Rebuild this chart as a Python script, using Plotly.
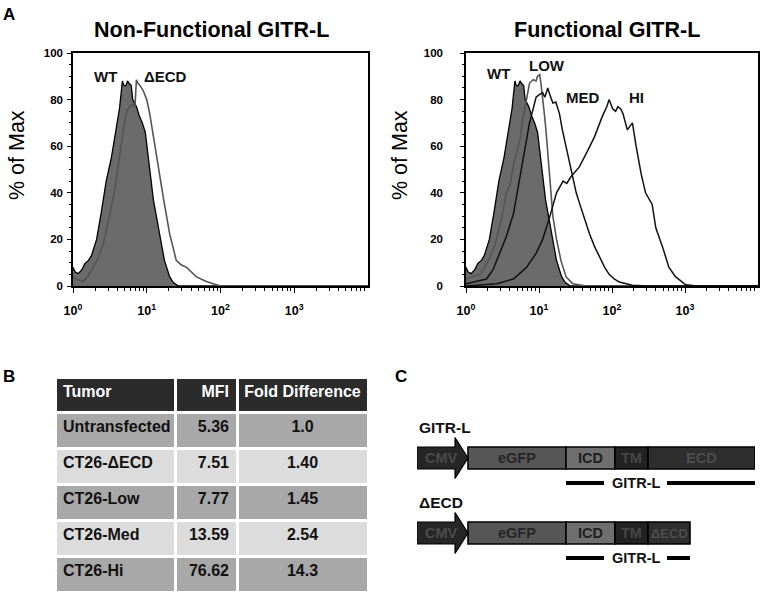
import plotly.graph_objects as go

W, H = 762, 595
FONT = "Liberation Sans"

# ---------------- Panel A data (log10 fluorescence, % of max) ----------------
wt_log = [0.00, 0.03, 0.07, 0.12, 0.16, 0.21, 0.25, 0.32, 0.38, 0.45, 0.52, 0.59, 0.63, 0.67,
          0.69, 0.715, 0.74, 0.76, 0.79, 0.81, 0.86, 0.90, 0.94, 0.98, 1.04, 1.09, 1.13, 1.17,
          1.24, 1.31, 1.36, 1.43, 1.60, 2.50, 4.00]
wt_pct = [8, 6, 5.3, 7, 9.6, 11, 13, 20, 31, 45, 55, 68, 76, 88,
          86, 86, 88, 87, 86, 80, 77, 73, 70, 66, 51, 37, 30, 22.5,
          11, 4, 1.5, 0, 0, 0, 0]

decd_log = [0.00, 0.04, 0.10, 0.14, 0.20, 0.27, 0.34, 0.41, 0.47, 0.52, 0.57, 0.61, 0.66, 0.70,
            0.74, 0.77, 0.80, 0.84, 0.86, 0.88, 0.91, 0.95, 1.00, 1.04, 1.08, 1.15, 1.23, 1.31,
            1.40, 1.47, 1.54, 1.67, 1.80, 1.90, 2.00, 4.00]
decd_pct = [4, 3, 2.5, 2, 4, 8, 12, 18, 26, 34, 42, 50, 62, 71,
            76, 77, 78, 77, 88.5, 87, 86, 84, 80, 74, 66, 51, 37, 22.5,
            11, 9, 8, 4, 2, 1, 0, 0]

low_log = [0.00, 0.10, 0.19, 0.26, 0.33, 0.40, 0.46, 0.51, 0.55, 0.60, 0.65, 0.70, 0.74, 0.78,
           0.83, 0.87, 0.92, 0.96, 0.98, 1.01, 1.03, 1.05, 1.08, 1.10, 1.13, 1.15, 1.19, 1.24,
           1.30, 1.37, 1.46, 1.65, 4.00]
low_pct = [3, 4, 5, 8, 12.5, 18, 25, 32, 40, 43, 52, 58, 63, 72,
           81, 87, 88.5, 88, 90, 90.7, 86, 81, 72, 65, 54, 44, 30, 20,
           11, 4, 1, 0, 0]

med_log = [0.00, 0.15, 0.28, 0.37, 0.46, 0.55, 0.65, 0.72, 0.78, 0.83, 0.87, 0.92, 0.96, 1.00,
           1.05, 1.08, 1.12, 1.15, 1.19, 1.23, 1.28, 1.32, 1.37, 1.44, 1.51, 1.55, 1.60, 1.69,
           1.76, 1.83, 1.90, 1.96, 2.03, 2.10, 2.28, 2.50, 4.00]
med_pct = [1, 2, 3, 7, 14, 21, 31, 43, 54, 63, 70, 76, 81, 82,
           83, 81, 85, 82, 78.5, 79, 74, 67, 60, 51, 40, 36, 31, 22.5,
           17, 12.5, 8, 5, 3, 1.7, 0.3, 0, 0]

hi_log = [0.00, 0.42, 0.65, 0.83, 0.96, 1.05, 1.15, 1.24, 1.33, 1.38, 1.44, 1.50, 1.55, 1.65,
          1.76, 1.87, 1.93, 1.96, 2.01, 2.05, 2.08, 2.12, 2.15, 2.21, 2.28, 2.33, 2.40, 2.46,
          2.52, 2.55, 2.60, 2.69, 2.78, 2.87, 3.00, 3.15, 4.00]
hi_pct = [0, 1, 3, 8, 14, 20, 30, 40, 45, 44, 47, 49, 51, 57,
          64, 73, 77, 80, 76, 75, 77, 76, 74, 67, 70, 60, 48, 40,
          37, 35, 25, 17, 8, 4, 0.7, 0, 0]

decade_vals = [1, 10, 100, 1000]
decade_text = ["10<sup>0</sup>", "10<sup>1</sup>", "10<sup>2</sup>", "10<sup>3</sup>"]
minor_vals = [m * d for d in [1, 10, 100, 1000] for m in range(2, 10)]
pct_ticks = [0, 20, 40, 60, 80, 100]

# ---------------- Panel B data ----------------
tbl_header = ["Tumor", "MFI", "Fold\u00a0Difference"]
tumors = ["Untransfected", "CT26-ΔECD", "CT26-Low", "CT26-Med", "CT26-Hi"]
mfi = ["5.36", "7.51", "7.77", "13.59", "76.62"]
fold = ["1.0", "1.40", "1.45", "2.54", "14.3"]

# ---------------- Panel C data ----------------
constructs = ["GITR-L", "ΔECD"]
seg_names = [["CMV", "eGFP", "ICD", "TM", "ECD"],
             ["CMV", "eGFP", "ICD", "TM", "ΔECD"]]
seg_lengths = [[51, 98, 49, 33, 107],
               [51, 98, 49, 33, 42]]

seg_fill = {"CMV": "#262626", "eGFP": "#565656", "ICD": "#6f6f6f",
            "TM": "#222222", "ECD": "#2e2e2e", "ΔECD": "#2e2e2e"}
seg_text = {"CMV": "#4b4b4b", "eGFP": "#262626", "ICD": "#1e1e1e",
            "TM": "#464646", "ECD": "#4d4d4d", "ΔECD": "#4d4d4d"}


def lx(vals):
    return [10 ** v for v in vals]


fig = go.Figure()

# ---- histograms, left panel ----
fig.add_trace(go.Scatter(x=lx(wt_log), y=wt_pct, mode="lines", fill="tozeroy",
                         fillcolor="#6b6b6b", line=dict(color="black", width=1.3),
                         xaxis="x", yaxis="y", showlegend=False))
fig.add_trace(go.Scatter(x=lx(decd_log), y=decd_pct, mode="lines",
                         line=dict(color="#555555", width=1.6),
                         xaxis="x", yaxis="y", showlegend=False))

# ---- histograms, right panel ----
fig.add_trace(go.Scatter(x=lx(wt_log), y=wt_pct, mode="lines", fill="tozeroy",
                         fillcolor="#6b6b6b", line=dict(color="black", width=1.3),
                         xaxis="x2", yaxis="y2", showlegend=False))
fig.add_trace(go.Scatter(x=lx(low_log), y=low_pct, mode="lines",
                         line=dict(color="#555555", width=1.6),
                         xaxis="x2", yaxis="y2", showlegend=False))
fig.add_trace(go.Scatter(x=lx(med_log), y=med_pct, mode="lines",
                         line=dict(color="#111111", width=1.5),
                         xaxis="x2", yaxis="y2", showlegend=False))
fig.add_trace(go.Scatter(x=lx(hi_log), y=hi_pct, mode="lines",
                         line=dict(color="#111111", width=1.5),
                         xaxis="x2", yaxis="y2", showlegend=False))

# ---- table ----
dark_row, light_row = "#a8a8a8", "#dcdcdc"
row_fill = [dark_row if i % 2 == 0 else light_row for i in range(len(tumors))]
fig.add_trace(go.Table(
    domain=dict(x=[55 / W, 368 / W], y=[1 - 594 / H, 1 - 377 / H]),
    columnwidth=[120, 62, 131],
    header=dict(values=tbl_header, fill_color="#2b2b2b",
                font=dict(family=FONT, size=16, color="white", weight="bold"),
                align=["left", "right", "center"], height=35,
                line=dict(color="white", width=3)),
    cells=dict(values=[tumors, mfi, fold], fill_color=[row_fill] * 3,
               font=dict(family=FONT, size=16, color="#111111", weight="bold"),
               align=["left", "right", "center"], height=36,
               line=dict(color="white", width=3)),
))

# ---- constructs ----
px_per_row = 75.0
box_h = 22 / px_per_row
head_h = 41 / px_per_row
head_len = 13
for r, (names, lens) in enumerate(zip(seg_names, seg_lengths)):
    start = 0
    for name, ln in zip(names, lens):
        if name == "CMV":
            bx = start + ln - head_len
            xs = [start, bx, bx, start + ln, bx, bx, start, start]
            ys = [r - box_h / 2, r - box_h / 2, r - head_h / 2, r, r + head_h / 2,
                  r + box_h / 2, r + box_h / 2, r - box_h / 2]
            fig.add_trace(go.Scatter(x=xs, y=ys, mode="lines", fill="toself",
                                     fillcolor=seg_fill[name],
                                     line=dict(color="black", width=1.2),
                                     xaxis="x3", yaxis="y3", showlegend=False))
            tx = start + (ln - head_len) / 2 + 5
        else:
            fig.add_trace(go.Bar(y=[r], x=[ln], base=[start], orientation="h",
                                 width=box_h,
                                 marker=dict(color=seg_fill[name],
                                             line=dict(color="black", width=1.6)),
                                 xaxis="x3", yaxis="y3", showlegend=False))
            tx = start + ln / 2
        fig.add_annotation(x=tx, y=r, xref="x3", yref="y3", text=name, showarrow=False,
                           font=dict(family=FONT, size=14.5 if name != "ΔECD" else 13,
                                     color=seg_text[name], weight="bold"))
        start += ln
    # GITR-L span under ICD..end
    icd_start = sum(lens[:2])
    end = sum(lens)
    yl = r + 25 / px_per_row
    fig.add_trace(go.Scatter(x=[icd_start, icd_start + 38, None, icd_start + 101, end],
                             y=[yl, yl, None, yl, yl], mode="lines",
                             line=dict(color="black", width=4),
                             xaxis="x3", yaxis="y3", showlegend=False))
    fig.add_annotation(x=icd_start + 70, y=yl, xref="x3", yref="y3", text="GITR-L",
                       showarrow=False,
                       font=dict(family=FONT, size=14.5, color="#111111", weight="bold"))
    fig.add_annotation(x=0, y=r - 31 / px_per_row, xref="x3", yref="y3",
                       text=constructs[r], showarrow=False, xanchor="left",
                       font=dict(family=FONT, size=15.5, color="#111111", weight="bold"))

# ---- axes ----
def xaxis_cfg(domain, anchor):
    return dict(domain=domain, anchor=anchor, automargin=False, type="log", range=[0, 4],
                showline=True, linecolor="black",
                linewidth=1.5, mirror=True, ticks="outside", ticklen=5, tickwidth=1.3,
                tickcolor="black", tickmode="array", tickvals=decade_vals,
                ticktext=decade_text, showgrid=False, zeroline=False,
                ticklabelstandoff=7,
                tickfont=dict(family=FONT, size=12.5, color="black", weight="bold"),
                minor=dict(tickmode="array", tickvals=minor_vals, ticks="outside",
                           ticklen=3, tickwidth=1, tickcolor="black", showgrid=False))


def yaxis_cfg(anchor, standoff):
    return dict(domain=[1 - 286 / H, 1 - 53 / H], range=[0, 100], anchor=anchor,
                automargin=False,
                showline=True, linecolor="black", linewidth=1.5, mirror=True,
                ticks="outside", ticklen=4, tickwidth=1.3, tickcolor="black",
                tickmode="array", tickvals=pct_ticks, showgrid=False, zeroline=False,
                ticklabelstandoff=standoff,
                tickfont=dict(family=FONT, size=11.5, color="black", weight="bold"),
                minor=dict(dtick=5, ticks="outside", ticklen=2, tickwidth=1,
                           tickcolor="black", showgrid=False))


fig.update_layout(
    width=W, height=H, margin=dict(l=0, r=0, t=0, b=0, pad=0, autoexpand=False),
    paper_bgcolor="white", plot_bgcolor="white", barmode="overlay", showlegend=False,
    xaxis=xaxis_cfg([73 / W, 368 / W], "y"),
    yaxis=yaxis_cfg("x", 2),
    xaxis2=xaxis_cfg([466 / W, 758 / W], "y2"),
    yaxis2=yaxis_cfg("x2", 15),
    xaxis3=dict(domain=[417 / W, 755 / W], range=[0, 338], visible=False, anchor="y3",
                automargin=False, fixedrange=True),
    yaxis3=dict(domain=[1 - 575 / H, 1 - 410 / H], range=[1.56, -0.64], visible=False,
                anchor="x3", automargin=False, fixedrange=True),
)

# ---- titles / labels ----
def pa(text, x, y, size, bold=True, angle=0, xanchor="center"):
    fig.add_annotation(x=x / W, y=1 - y / H, xref="paper", yref="paper", text=text,
                       showarrow=False, textangle=angle, xanchor=xanchor, yanchor="middle",
                       font=dict(family=FONT, size=size, color="black",
                                 weight="bold" if bold else "normal"))


pa("A", 9, 14, 17)
pa("B", 9, 376, 17)
pa("C", 401, 376, 17)
pa("Non-Functional GITR-L", 211, 30, 21.5)
pa("Functional GITR-L", 607, 30, 21.5)
pa("% of Max", 17, 155, 21.5, bold=False, angle=-90)
pa("% of Max", 400, 155, 21.5, bold=False, angle=-90)

# curve labels (data coordinates: log10 x, % y)
curve_labels = [("WT", 0.434, 90, "x", "y"), ("ΔECD", 1.25, 90, "x", "y"),
                ("WT", 0.452, 91, "x2", "y2"), ("LOW", 1.11, 94.5, "x2", "y2"),
                ("MED", 1.60, 81, "x2", "y2"), ("HI", 2.34, 81, "x2", "y2")]
for t, xv, yv, xr, yr in curve_labels:
    fig.add_annotation(x=xv, y=yv, xref=xr, yref=yr, text=t, showarrow=False,
                       font=dict(family=FONT, size=15, color="#111111", weight="bold"))

fig.write_html("out.html", config={"displayModeBar": False},
               post_script="document.body.style.margin='0';document.body.style.overflow='hidden';")
